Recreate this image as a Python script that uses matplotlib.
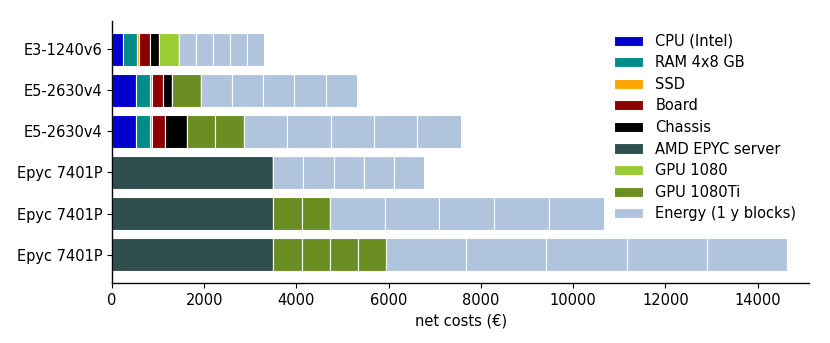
import matplotlib
matplotlib.use("Agg")
import matplotlib.pyplot as plt
import numpy as np

labels = ["E3-1240v6", "E5-2630v4", "E5-2630v4", "Epyc 7401P", "Epyc 7401P", "Epyc 7401P"]
cpu = [240, 520, 520, 0, 0, 0]
ram = [295, 311, 311, 0, 0, 0]
ssd = [50, 44, 44, 0, 0, 0]
board = [232, 224, 274, 0, 0, 0]
chassis = [209, 209, 484, 0, 0, 0]
epyc = [0, 0, 0, 3500, 3500, 3500]
n_gpu1080 = [1, 0, 0, 0, 0, 0]
price_gpu1080 = 427
n_gpu1080ti = [0, 1, 2, 0, 2, 4]
price_gpu1080ti = 612
energy_per_year = [368, 678, 941, 653, 1188, 1737]
n_years = 5

colors = {
    "CPU (Intel)": "#0000CD",
    "RAM 4x8 GB": "#008B8B",
    "SSD": "#FFA500",
    "Board": "#8B0000",
    "Chassis": "#000000",
    "AMD EPYC server": "#2F4F4F",
    "GPU 1080": "#9ACD32",
    "GPU 1080Ti": "#6B8E23",
    "Energy (1 y blocks)": "#B0C4DE",
}

fs = 10.5
fig = plt.figure(figsize=(8.3, 3.43), dpi=100)
ax = fig.add_axes([0.1349, 0.1749, 0.975 - 0.1349, 0.9397 - 0.1749])

y = np.arange(len(labels))
left = np.zeros(len(labels))
h = 0.8
kw = dict(height=h, edgecolor="white", linewidth=0.8)

def seg(vals, name, label=True):
    global left
    vals = np.asarray(vals, dtype=float)
    ax.barh(y, vals, left=left, color=colors[name], label=name if label else None, **kw)
    left = left + vals

seg(cpu, "CPU (Intel)")
seg(ram, "RAM 4x8 GB")
seg(ssd, "SSD")
seg(board, "Board")
seg(chassis, "Chassis")
seg(epyc, "AMD EPYC server")
for k in range(max(n_gpu1080)):
    seg([price_gpu1080 if n > k else 0 for n in n_gpu1080], "GPU 1080", label=(k == 0))
for k in range(max(n_gpu1080ti)):
    seg([price_gpu1080ti if n > k else 0 for n in n_gpu1080ti], "GPU 1080Ti", label=(k == 0))
for k in range(n_years):
    seg(energy_per_year, "Energy (1 y blocks)", label=(k == 0))

ax.set_yticks(y)
ax.set_yticklabels(labels, fontsize=fs)
ax.invert_yaxis()
ax.set_xlim(0, 15120)
ax.set_xlabel("net costs (€)", fontsize=fs)
ax.spines["top"].set_visible(False)
ax.spines["right"].set_visible(False)
ax.spines["left"].set_linewidth(1.0)
ax.spines["bottom"].set_linewidth(1.0)
ax.tick_params(labelsize=fs)
ax.legend(loc="upper right", frameon=False, fontsize=fs, labelspacing=0.45)

fig.savefig("out.png", dpi=100)
